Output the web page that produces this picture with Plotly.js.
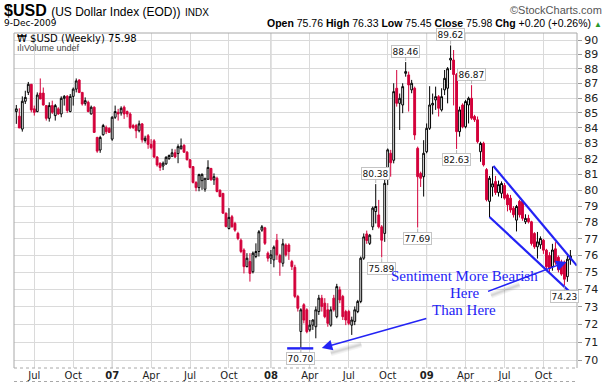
<!DOCTYPE html>
<html><head><meta charset="utf-8">
<script src="https://cdn.plot.ly/plotly-3.0.1.min.js"></script>
<style>html,body{margin:0;padding:0;background:#fff}#chart{width:608px;height:385px}</style>
</head><body><div id="chart"></div>
<script>
// Weekly bars of $USD, one per week (week starting Monday), first bar week of 2006-05-22
const firstWeek = '2006-05-22';
const open = [
85.09,84.78,83.93,85.78,86.38,86.93,85.27,85.09,86.33,86.33,
85.49,84.64,85.49,84.82,85.27,84.93,85.98,86.11,85.09,86.11,
86.60,87.22,86.38,85.64,85.71,84.93,85.38,83.38,82.56,83.56,
84.04,83.98,83.27,84.71,85.04,85.00,85.38,85.09,84.93,84.16,
84.16,83.82,84.27,83.18,83.49,82.93,83.16,82.11,81.71,81.53,
81.67,82.00,82.16,82.38,82.33,82.64,82.87,82.42,81.93,81.49,
80.49,80.16,80.60,80.06,80.69,81.38,80.65,80.75,80.00,79.80,
78.57,77.63,78.35,77.94,77.33,76.92,76.33,75.34,75.64,75.04,
75.94,76.24,77.53,77.67,76.14,75.84,75.74,76.92,76.00,75.54,
76.63,76.63,75.64,75.30,73.60,71.60,73.12,72.83,71.69,71.96,
71.87,72.73,73.50,73.21,72.83,71.96,73.50,72.44,73.98,73.60,
72.73,72.73,71.96,72.17,72.73,73.31,75.84,77.30,76.73,77.73,
78.67,78.46,77.73,77.33,80.74,82.35,81.90,86.66,85.64,85.53,
87.68,87.57,86.55,86.66,82.67,81.06,80.85,82.45,83.98,85.53,
85.87,86.09,85.20,86.55,86.66,88.60,88.60,87.60,83.76,85.53,
84.08,85.53,85.98,84.76,84.54,82.45,83.00,81.30,79.30,80.20,
80.55,79.85,79.80,80.30,79.70,79.50,78.88,78.14,79.30,79.30,
78.04,78.25,78.04,77.33,76.52,76.64,76.92,76.32,76.00,75.34,
76.40,75.90,75.60,75.60,74.75,75.76];
const high = [
85.53,85.31,86.11,86.49,87.09,86.95,85.49,86.38,87.33,86.71,
85.49,85.71,85.82,85.60,85.38,86.11,86.20,86.20,86.27,86.71,
87.33,87.27,86.38,86.04,85.82,85.49,85.44,83.42,83.49,84.27,
84.16,84.04,84.78,85.49,85.27,85.44,85.49,85.16,85.04,84.27,
84.27,84.49,84.33,83.49,83.60,83.27,83.27,82.16,81.76,81.82,
82.16,82.27,82.64,82.60,82.93,83.31,82.93,82.49,81.98,81.53,
80.56,81.04,81.06,80.75,81.90,81.40,81.06,80.85,80.04,79.80,
78.60,78.88,78.46,78.04,77.43,77.02,76.43,76.14,76.14,76.24,
76.73,77.53,77.84,77.73,76.24,76.33,76.60,77.30,76.10,77.00,
76.73,76.73,75.74,75.45,73.69,72.92,73.21,72.92,72.25,72.29,
73.02,73.69,73.69,73.50,73.21,73.02,73.69,74.33,74.17,73.69,
72.83,72.83,72.44,73.02,73.40,75.94,77.33,77.50,77.30,78.98,
80.38,79.39,77.84,80.74,82.66,82.57,87.00,87.91,86.30,87.00,
88.46,87.80,87.23,86.77,82.78,81.17,83.20,84.30,86.80,86.30,
86.77,86.20,86.66,87.91,88.11,89.62,89.30,87.70,85.42,85.64,
85.87,86.09,86.87,84.87,84.76,83.10,83.10,81.40,80.90,81.50,
80.90,80.60,80.55,80.45,79.80,79.70,79.00,79.08,79.40,79.30,
78.50,78.47,78.10,77.40,77.42,77.15,77.00,76.40,76.20,76.70,
76.80,76.00,75.75,75.70,76.00,76.33];
const low = [
84.27,84.00,83.76,85.60,86.20,85.04,84.82,85.04,85.93,85.49,
84.49,84.42,84.93,84.49,84.87,84.71,85.49,85.00,85.04,85.49,
86.38,86.33,85.49,85.49,85.04,84.89,83.67,82.38,82.38,83.49,
83.60,83.67,83.16,84.60,84.49,84.82,84.60,84.71,83.93,83.93,
83.33,83.71,83.04,83.04,82.64,82.60,82.04,81.49,81.22,81.27,
81.60,81.93,82.11,82.04,81.71,82.60,82.38,81.89,81.38,80.42,
79.93,79.93,80.02,79.90,80.65,80.60,80.33,79.86,79.56,78.53,
77.70,77.57,77.69,77.43,76.92,76.14,74.94,75.30,74.46,74.94,
75.84,75.94,77.43,76.63,75.64,75.50,75.30,75.74,74.80,75.34,
75.94,75.74,75.14,73.50,72.73,70.70,72.06,71.50,71.59,71.69,
71.22,72.54,72.73,72.35,71.87,71.87,72.73,72.35,73.21,72.25,
71.96,71.96,71.41,71.96,72.64,73.21,75.74,76.70,76.63,77.53,
77.94,77.63,75.89,76.82,80.32,80.85,81.70,85.42,83.87,84.98,
87.45,85.09,86.32,83.22,77.69,80.20,79.60,82.35,83.87,84.90,
85.20,84.76,85.09,86.20,85.64,87.91,85.50,82.63,83.43,83.98,
83.98,84.30,84.54,84.40,82.99,81.80,81.50,79.30,78.33,79.60,
79.70,79.60,79.50,79.40,78.68,78.60,78.30,77.45,78.30,78.10,
77.90,77.94,76.60,76.40,75.82,76.40,76.10,75.20,74.95,75.10,
75.45,75.00,74.80,74.23,74.45,75.45];
const close = [
85.27,84.00,85.78,86.04,86.93,85.20,85.04,86.20,85.93,85.53,
84.64,85.49,85.04,85.49,84.93,85.98,86.11,85.16,86.11,86.60,
87.16,86.38,85.60,85.82,85.09,85.38,83.71,82.49,83.38,84.16,
83.76,83.71,84.71,85.09,84.93,85.31,84.93,84.93,84.04,84.04,
83.82,84.27,83.22,83.33,82.93,82.71,82.11,81.60,81.44,81.71,
82.09,82.20,82.38,82.11,82.78,82.82,82.42,81.93,81.44,80.49,
80.16,80.98,81.00,80.75,81.44,80.65,80.85,79.92,79.60,78.57,
77.75,78.31,77.73,77.53,77.02,76.24,75.34,75.84,74.94,76.14,
76.24,77.43,77.73,76.73,75.84,76.04,76.50,76.04,75.60,76.70,
76.04,76.24,75.34,73.60,72.92,72.83,72.25,71.59,71.96,72.25,
72.83,73.50,73.02,72.44,72.06,72.83,72.83,74.17,73.40,72.44,
72.25,72.06,72.25,72.83,73.31,75.84,77.12,76.90,77.22,78.88,
78.98,77.73,76.92,80.43,82.57,81.74,86.43,85.64,85.98,86.77,
87.80,86.89,87.00,83.54,80.85,80.75,82.35,83.98,85.53,85.64,
86.09,85.31,86.09,87.34,88.00,88.72,87.60,83.76,85.20,84.08,
85.76,85.98,84.65,84.54,83.10,82.99,81.60,79.40,80.75,80.40,
79.85,80.35,80.42,79.50,79.08,78.77,78.47,78.98,78.47,78.25,
78.25,78.04,76.72,76.52,76.82,77.02,76.32,75.33,75.23,76.33,
75.60,75.15,74.90,74.60,75.78,75.98];

// x tick labels (first weekly bar of each quarter month)
const tickDates = ['2006-07-03','2006-10-02','2007-01-01','2007-04-02','2007-07-02','2007-10-01',
  '2008-01-07','2008-04-07','2008-07-07','2008-10-06','2009-01-05','2009-04-06','2009-07-06','2009-10-05'];
const tickLabels = ['Jul','Oct','07','Apr','Jul','Oct','08','Apr','Jul','Oct','09','Apr','Jul','Oct'];
const yTicks = [70,71,72,73,74,75,76,77,78,79,80,81,82,83,84,85,86,87,88,89,90];

// price callouts (bar index) for highs and lows
const highCallouts = [120,130,145,152];
const lowCallouts = [95,122,134,147,183];

// hand-drawn annotations
const channelUpperDates = ['2009-06-10','2009-12-22'];
const channelUpperVals = [81.53,75.40];
const channelLowerDates = ['2009-06-01','2009-12-22'];
const channelLowerVals = [78.33,73.49];
const lowMarkDates = ['2008-02-14','2008-04-15'];
const lowMarkVals = [70.66,70.66];
const arrowTipDates = ['2008-05-05','2009-11-28'];
const arrowTipVals = [70.68,75.62];
const noteLines = ['Sentiment More Bearish','Here','Than Here'];

const dates = open.map((_, i) => new Date(Date.parse(firstWeek + 'T00:00:00Z') + i*7*864e5).toISOString().slice(0,10));

const BLUE = '#2323f5';
const traces = [
  {type:'candlestick', x:dates, open:open, high:high, low:low, close:close,
   increasing:{line:{color:'#000000', width:1}, fillcolor:'#ffffff'},
   decreasing:{line:{color:'#d3003a', width:1}, fillcolor:'#d3003a'},
   whiskerwidth:0, hoverinfo:'skip', showlegend:false},
  {type:'scatter', mode:'lines', x:channelUpperDates, y:channelUpperVals, line:{color:BLUE, width:2.2}, hoverinfo:'skip', showlegend:false},
  {type:'scatter', mode:'lines', x:channelLowerDates, y:channelLowerVals, line:{color:BLUE, width:2.2}, hoverinfo:'skip', showlegend:false},
  {type:'scatter', mode:'lines', x:lowMarkDates, y:lowMarkVals, line:{color:BLUE, width:2.4}, hoverinfo:'skip', showlegend:false}
];

const L = 14, R = 577, T = 33, B = 368;
const px = x => (x - L) / (R - L);
const py = y => (B - y) / (B - T);

const ann = [];
function callout(i, v, dy) {
  ann.push({x:dates[i], y:Math.log10(v), xref:'x', yref:'y', text:v.toFixed(2),
    showarrow:true, arrowhead:0, arrowwidth:1, arrowcolor:'#b5b5b5', ax:0, ay:dy, standoff:1,
    bgcolor:'#ffffff', bordercolor:'#c4c4c4', borderwidth:1, borderpad:0.5,
    font:{family:'DejaVu Sans', size:9, color:'#111'}});
}
highCallouts.forEach(i => callout(i, high[i], -11));
lowCallouts.forEach(i => callout(i, low[i], 11));

// soft shadows under the hand-drawn arrows (layered for a blur-like look)
[[6,0.07],[3.5,0.09],[1.5,0.10]].forEach(([w,a]) => {
  ann.push({x:arrowTipDates[0], y:Math.log10(arrowTipVals[0]), xref:'x', yref:'y', text:'', showarrow:true,
    arrowhead:0, arrowwidth:w, arrowcolor:'rgba(90,90,90,'+a+')', ax:32, ay:-9, xshift:9, yshift:-5, standoff:0});
  ann.push({x:arrowTipDates[1], y:Math.log10(arrowTipVals[1]), xref:'x', yref:'y', text:'', showarrow:true,
    arrowhead:0, arrowwidth:w, arrowcolor:'rgba(90,90,90,'+a+')', ax:-30, ay:11, xshift:-47, yshift:-23, standoff:0});
});
// arrows
ann.push({x:arrowTipDates[0], y:Math.log10(arrowTipVals[0]), xref:'x', yref:'y', text:'', showarrow:true,
  arrowhead:2, arrowsize:1.4, arrowwidth:1.5, arrowcolor:BLUE, ax:106, ay:-30, standoff:0});
ann.push({x:arrowTipDates[1], y:Math.log10(arrowTipVals[1]), xref:'x', yref:'y', text:'', showarrow:true,
  arrowhead:2, arrowsize:1.4, arrowwidth:1.5, arrowcolor:BLUE, ax:-80, ay:30, standoff:0});

// note text
const noteY = [276, 293, 310];
noteLines.forEach((t, k) => ann.push({x:px(464), y:py(noteY[k]), xref:'paper', yref:'paper', text:t, showarrow:false,
  xanchor:'center', yanchor:'middle', font:{family:'Liberation Serif', size:15, color:BLUE}}));

// header
ann.push({x:px(2), y:py(10), xref:'paper', yref:'paper', xanchor:'left', yanchor:'middle', showarrow:false,
  text:'<b>$USD</b> <span style="font-size:12px">(US Dollar Index (EOD))</span> <span style="font-size:10px">INDX</span>',
  font:{family:'Liberation Sans', size:16, color:'#000'}});
ann.push({x:px(604), y:py(10), xref:'paper', yref:'paper', xanchor:'right', yanchor:'middle', showarrow:false,
  text:'©StockCharts.com', font:{family:'Liberation Sans', size:11, color:'#555'}});
ann.push({x:px(2), y:py(23.5), xref:'paper', yref:'paper', xanchor:'left', yanchor:'middle', showarrow:false,
  text:'9-Dec-2009', font:{family:'DejaVu Sans', size:9, color:'#000'}});
ann.push({x:px(604), y:py(23.5), xref:'paper', yref:'paper', xanchor:'right', yanchor:'middle', showarrow:false,
  text:'<b>Open</b> 75.76 <b>High</b> 76.33 <b>Low</b> 75.45 <b>Close</b> 75.98 <b>Chg</b> +0.20 (+0.26%) <span style="color:#2a9a2a;font-size:8px">▲</span>',
  font:{family:'Liberation Sans', size:10.5, color:'#000'}});
ann.push({x:px(15), y:py(38.5), xref:'paper', yref:'paper', xanchor:'left', yanchor:'middle', showarrow:false,
  text:'₩ $USD (Weekly) 75.98', font:{family:'DejaVu Sans', size:10, color:'#000'}});
ann.push({x:px(15), y:py(48), xref:'paper', yref:'paper', xanchor:'left', yanchor:'middle', showarrow:false,
  text:'ılıVolume undef', font:{family:'Liberation Sans', size:9, color:'#444'}});

const shapes = [];
// year separators
tickDates.forEach((d, k) => { if (/^\d\d$/.test(tickLabels[k])) shapes.push({type:'line', xref:'x', yref:'paper', x0:d, x1:d, y0:0, y1:1, line:{color:'#b8b8b8', width:1}, layer:'below'}); });
// frame
shapes.push({type:'line', xref:'paper', yref:'paper', x0:0, x1:0, y0:0, y1:1, line:{color:'#a8a8a8', width:1}});
shapes.push({type:'line', xref:'paper', yref:'paper', x0:1, x1:1, y0:0, y1:1, line:{color:'#a8a8a8', width:1}});
shapes.push({type:'line', xref:'paper', yref:'paper', x0:0, x1:1, y0:1, y1:1, line:{color:'#a8a8a8', width:1}});
shapes.push({type:'line', xref:'paper', yref:'paper', x0:0, x1:1, y0:0, y1:0, line:{color:'#a8a8a8', width:1, dash:'dot'}});
shapes.push({type:'line', xref:'paper', yref:'paper', x0:0, x1:1, y0:py(381.5), y1:py(381.5), line:{color:'#a8a8a8', width:1, dash:'dot'}});

const layout = {
  width:608, height:385, margin:{l:L, r:608-R, t:T, b:385-B}, paper_bgcolor:'#fff', plot_bgcolor:'#fff',
  showlegend:false, dragmode:false, boxgap:0.12,
  xaxis:{type:'date', range:['2006-05-16 14:00','2009-12-22 10:00'], rangeslider:{visible:false},
    tickmode:'array', tickvals:tickDates, ticktext:tickLabels.map(t => /^\d\d$/.test(t) ? '<b>'+t+'</b>' : t),
    showgrid:true, gridcolor:'#dadada', gridwidth:1, zeroline:false, showline:false, ticks:'',
    tickfont:{family:'DejaVu Sans', size:10, color:'#222'}, fixedrange:true},
  yaxis:{type:'log', side:'right', range:[Math.log10(69.58), Math.log10(90.5)],
    tickmode:'array', tickvals:yTicks, ticktext:yTicks.map(String),
    showgrid:true, gridcolor:'#dadada', gridwidth:1, zeroline:false, showline:false,
    ticks:'outside', ticklen:4, tickcolor:'#999', tickfont:{family:'DejaVu Sans', size:11, color:'#222'}, fixedrange:true},
  annotations:ann, shapes:shapes
};
Plotly.newPlot('chart', traces, layout, {staticPlot:true, displayModeBar:false});
</script></body></html>
